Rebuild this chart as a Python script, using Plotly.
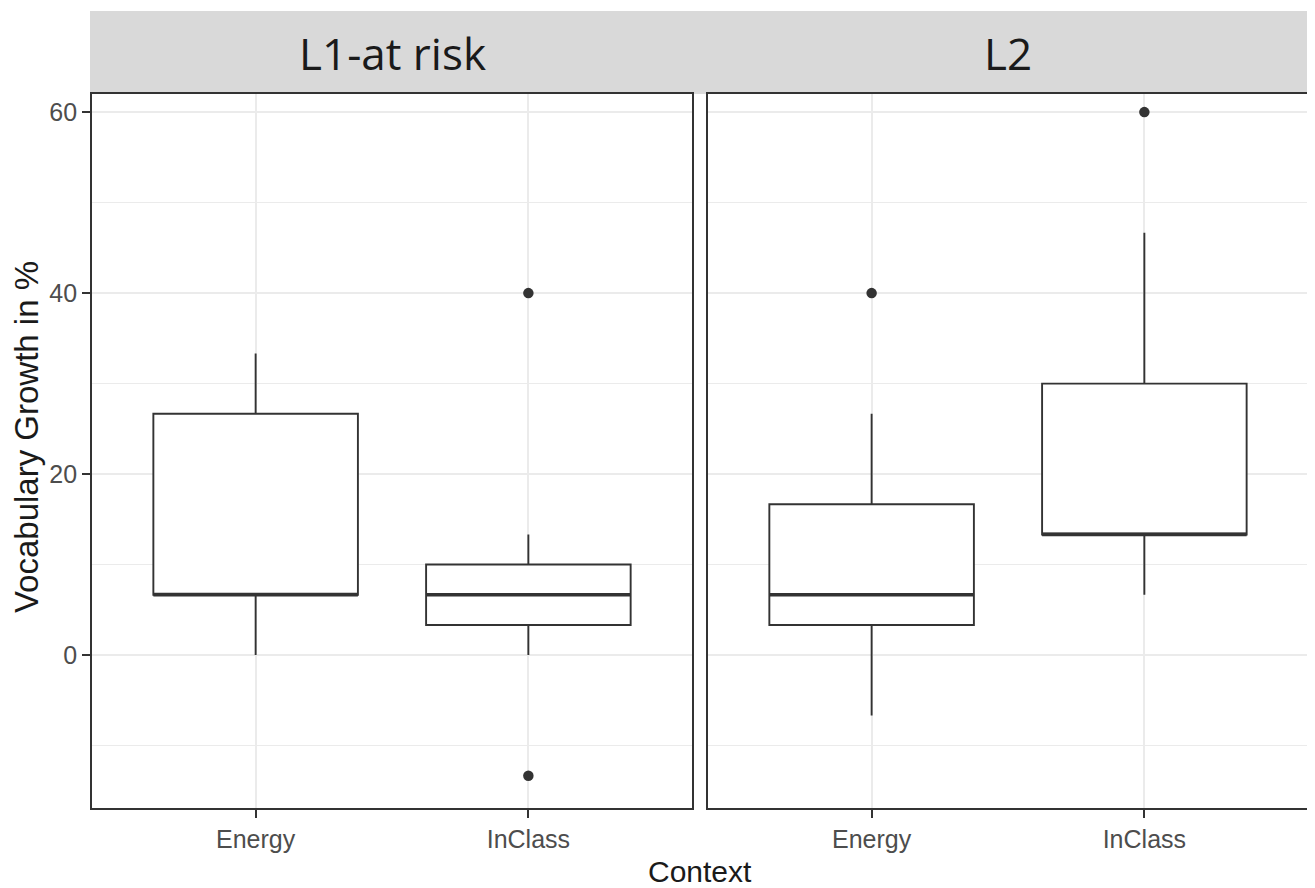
import plotly.graph_objects as go
from plotly.subplots import make_subplots

# ---- data ----
categories = ["Energy", "InClass"]
groups = ["L1-at risk", "L2"]

# per group: values for [Energy, InClass]
lower_whisker = {"L1-at risk": [0.0, 0.0], "L2": [-6.67, 6.67]}
q1_vals = {"L1-at risk": [6.67, 3.33], "L2": [3.33, 13.33]}
median_vals = {"L1-at risk": [6.67, 6.67], "L2": [6.67, 13.33]}
q3_vals = {"L1-at risk": [26.67, 10.0], "L2": [16.67, 30.0]}
upper_whisker = {"L1-at risk": [33.33, 13.33], "L2": [26.67, 46.67]}

outlier_cat = {"L1-at risk": ["InClass", "InClass"], "L2": ["Energy", "InClass"]}
outlier_val = {"L1-at risk": [40.0, -13.33], "L2": [40.0, 60.0]}

y_ticks = [0, 20, 40, 60]
x_title = "Context"
y_title = "Vocabulary Growth in %"

# ---- figure ----
# the page body adds an 8px offset; work in reference pixels and subtract it
OFF = 8
W, H = 1315 - OFF, 888 - OFF
PANEL_L, PANEL_R, PANEL_T, PANEL_B = 92, 1310, 94, 808
L = PANEL_L - OFF
R = 1315 - PANEL_R
T = PANEL_T - OFF
B = 888 - PANEL_B
plot_w = W - L - R
plot_h = H - T - B


def px(pix):
    return (pix - PANEL_L) / plot_w


def py(pix):
    return (PANEL_B - pix) / plot_h


left_end = px(693)
right_start = px(709)

fig = make_subplots(rows=1, cols=2, shared_yaxes=True, horizontal_spacing=right_start - left_end)

LINE = "#333333"
BOX_W = 0.75
xpos = list(range(len(categories)))

for gi, g in enumerate(groups):
    col = gi + 1
    fig.add_trace(go.Box(
        x=xpos,
        q1=q1_vals[g], median=median_vals[g], q3=q3_vals[g],
        lowerfence=lower_whisker[g], upperfence=upper_whisker[g],
        width=BOX_W, whiskerwidth=0,
        fillcolor="white", line=dict(color=LINE, width=1.9),
        boxpoints=False, showlegend=False, hoverinfo="skip",
    ), row=1, col=col)
    # thicker median lines, as in ggplot
    for xi, m in zip(xpos, median_vals[g]):
        fig.add_trace(go.Scatter(
            x=[xi - BOX_W / 2, xi + BOX_W / 2], y=[m, m], mode="lines",
            line=dict(color=LINE, width=3.6), showlegend=False, hoverinfo="skip",
        ), row=1, col=col)
    fig.add_trace(go.Scatter(
        x=[categories.index(c) for c in outlier_cat[g]], y=outlier_val[g],
        mode="markers", marker=dict(color=LINE, size=10.5),
        showlegend=False, hoverinfo="skip",
    ), row=1, col=col)

fig.update_layout(
    width=W, height=H,
    margin=dict(l=L, r=R, t=T, b=B, pad=0),
    paper_bgcolor="white", plot_bgcolor="white",
    font=dict(family="Liberation Sans, Arial, sans-serif"),
)

fig.update_layout(xaxis=dict(domain=[0, left_end]), xaxis2=dict(domain=[right_start, 1]))

for ax in ["xaxis", "xaxis2"]:
    fig.layout[ax].update(
        range=[-0.6, 1.6], tickvals=xpos, ticktext=categories,
        showgrid=True, gridcolor="#EBEBEB", gridwidth=1.5,
        showline=True, mirror=True, linecolor=LINE, linewidth=1.9,
        ticks="outside", ticklen=8, tickwidth=1.6, tickcolor=LINE,
        tickfont=dict(size=25, color="#4D4D4D"), zeroline=False, fixedrange=True,
    )

for ax in ["yaxis", "yaxis2"]:
    fig.layout[ax].update(
        range=[-16.9, 62.0], tickvals=y_ticks,
        showgrid=True, gridcolor="#EBEBEB", gridwidth=1.5,
        minor=dict(showgrid=True, gridcolor="#EBEBEB", gridwidth=0.9, dtick=10, tick0=0),
        showline=True, mirror=True, linecolor=LINE, linewidth=1.9,
        zeroline=False, fixedrange=True,
    )
fig.layout.yaxis.update(ticks="outside", ticklen=8, tickwidth=1.6, tickcolor=LINE,
                        tickfont=dict(size=25, color="#4D4D4D"))
fig.layout.yaxis2.update(ticks="", showticklabels=False)

# strip (facet header)
fig.add_shape(type="rect", xref="paper", yref="paper",
              x0=px(90), x1=1.0, y0=1.0, y1=py(11),
              fillcolor="#D9D9D9", line=dict(width=0), layer="below")

centers = [left_end / 2, (right_start + 1) / 2]
for g, cx in zip(groups, centers):
    fig.add_annotation(text=g, xref="paper", yref="paper", x=cx, y=py(53),
                       xanchor="center", yanchor="middle", showarrow=False,
                       font=dict(family="Open Sans, sans-serif", size=44, color="#1A1A1A"))

fig.add_annotation(text=x_title, xref="paper", yref="paper", x=px(701), y=py(872),
                   xanchor="center", yanchor="middle", showarrow=False,
                   font=dict(size=30, color="#1A1A1A"))
fig.add_annotation(text=y_title, xref="paper", yref="paper", x=px(27), y=py(437),
                   xanchor="center", yanchor="middle", showarrow=False, textangle=-90,
                   font=dict(size=33, color="#1A1A1A"))

fig.write_html("out.html")
